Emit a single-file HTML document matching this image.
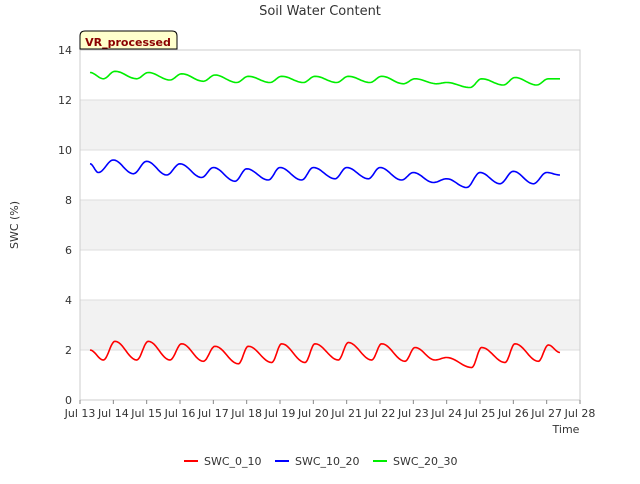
<!DOCTYPE html>
<html><head><meta charset="utf-8"><style>
body{margin:0;background:#fff;font-family:"DejaVu Sans","Liberation Sans",sans-serif;}
svg text{font-family:"DejaVu Sans","Liberation Sans",sans-serif;}
</style></head><body>
<svg id="chart" width="640" height="480" xmlns="http://www.w3.org/2000/svg">
<text x="320" y="15" text-anchor="middle" font-size="13" fill="#333">Soil Water Content</text>
<g id="bands"></g><g id="grid"></g><g id="series"></g><g id="axes"></g>
<text transform="translate(18,225) rotate(-90)" text-anchor="middle" font-size="11" fill="#333">SWC (%)</text>
<text x="566" y="433" text-anchor="middle" font-size="11" fill="#333">Time</text>
<g>
<path d="M80,49 L80,36 Q80,31 85,31 L172,31 Q177,31 177,36 L177,49 Z" fill="#ffffcc" stroke="#000" stroke-width="1"/>
<text x="128" y="46" text-anchor="middle" font-size="11" font-weight="bold" fill="#8b0000">VR_processed</text>
</g>
<g id="legend"></g>
</svg>
<script>
const xTickLabels=["Jul 13","Jul 14","Jul 15","Jul 16","Jul 17","Jul 18","Jul 19","Jul 20","Jul 21","Jul 22","Jul 23","Jul 24","Jul 25","Jul 26","Jul 27","Jul 28"];
const yTickValues=[0,2,4,6,8,10,12,14];
const seriesNames=["SWC_0_10","SWC_10_20","SWC_20_30"];
const seriesColors=["#ff0000","#0000ff","#00ee00"];
const t0=[13.3,13.7,14.05,14.7,15.05,15.7,16.05,16.7,17.05,17.75,18.05,18.75,19.05,19.75,20.05,20.75,21.05,21.75,22.05,22.75,23.05,23.65,24.0,24.75,25.05,25.75,26.05,26.75,27.05,27.4];
const v0=[2.0,1.6,2.35,1.6,2.35,1.6,2.25,1.55,2.15,1.45,2.15,1.5,2.25,1.5,2.25,1.6,2.3,1.6,2.25,1.55,2.1,1.6,1.7,1.3,2.1,1.5,2.25,1.55,2.2,1.9];
const t1=[13.3,13.55,14.0,14.6,15.0,15.6,16.0,16.65,17.0,17.65,18.0,18.65,19.0,19.65,20.0,20.65,21.0,21.65,22.0,22.65,23.0,23.6,24.0,24.6,25.0,25.6,26.0,26.6,27.0,27.4];
const v1=[9.45,9.1,9.6,9.05,9.55,9.0,9.45,8.9,9.3,8.75,9.25,8.8,9.3,8.8,9.3,8.85,9.3,8.85,9.3,8.8,9.1,8.7,8.85,8.5,9.1,8.65,9.15,8.65,9.1,9.0];
const t2=[13.3,13.7,14.05,14.7,15.05,15.7,16.05,16.7,17.05,17.7,18.05,18.7,19.05,19.7,20.05,20.7,21.05,21.7,22.05,22.7,23.05,23.7,24.0,24.7,25.05,25.7,26.05,26.7,27.05,27.4];
const v2=[13.1,12.85,13.15,12.85,13.1,12.8,13.05,12.75,13.0,12.7,12.95,12.7,12.95,12.7,12.95,12.7,12.95,12.7,12.95,12.65,12.85,12.65,12.7,12.5,12.85,12.6,12.9,12.6,12.85,12.85];
const seriesT=[t0,t1,t2], seriesV=[v0,v1,v2];

const NS="http://www.w3.org/2000/svg";
const X0=80,X1=580,Y0=400,Y1=50;
const xs=d=>X0+(d-13)/15*(X1-X0);
const ys=v=>Y0-v/14*(Y0-Y1);
function mk(tag,attrs,parent){const e=document.createElementNS(NS,tag);for(const k in attrs)e.setAttribute(k,attrs[k]);parent.appendChild(e);return e;}
const bands=document.getElementById('bands'),grid=document.getElementById('grid'),axes=document.getElementById('axes'),ser=document.getElementById('series'),leg=document.getElementById('legend');
for(let v=2;v<14;v+=4){const r=mk('rect',{x:X0,y:ys(v+2),width:X1-X0,height:ys(v)-ys(v+2),fill:'#f2f2f2'},bands);

}
yTickValues.forEach(v=>{
 const l=mk('line',{x1:X0,x2:X1,y1:ys(v),y2:ys(v),stroke:'#dddddd'},grid);
 
 
 const t=mk('text',{x:72,y:ys(v)+4,'text-anchor':'end','font-size':11,fill:'#333'},axes);
 t.textContent=v;
 
 
});
mk('rect',{x:X0,y:Y1,width:X1-X0,height:Y0-Y1,fill:'none',stroke:'#cccccc'},axes);
xTickLabels.forEach((lab,i)=>{
 const x=xs(13+i);
 mk('line',{x1:x,x2:x,y1:Y0,y2:Y0+4,stroke:'#888'},axes);
 const t=mk('text',{x:x,y:417,'text-anchor':'middle','font-size':11,fill:'#333'},axes);
 t.textContent=lab;
 
 
});
seriesNames.forEach((nm,s)=>{
 const T=seriesT[s],V=seriesV[s];let d='';
 for(let i=0;i<T.length-1;i++){
  const n=12;
  for(let k=0;k<=n;k++){
   if(i>0&&k==0)continue;
   const f=k/n,w=(1-Math.cos(Math.PI*f))/2;
   const tt=T[i]+(T[i+1]-T[i])*f,vv=V[i]+(V[i+1]-V[i])*w;
   d+=(d?'L':'M')+xs(tt).toFixed(1)+','+ys(vv).toFixed(1);
  }
 }
 const p=mk('path',{d:d,fill:'none',stroke:seriesColors[s],'stroke-width':1.6},ser);
 
 
 const lx=[184,275,373][s];
 const g=mk('g',{},leg);
 
 
 mk('line',{x1:lx,x2:lx+14,y1:461,y2:461,stroke:seriesColors[s],'stroke-width':2},g);
 const t=mk('text',{x:lx+20,y:465,'font-size':11,fill:'#333'},g);
 t.textContent=nm;
});
</script>
</body></html>
